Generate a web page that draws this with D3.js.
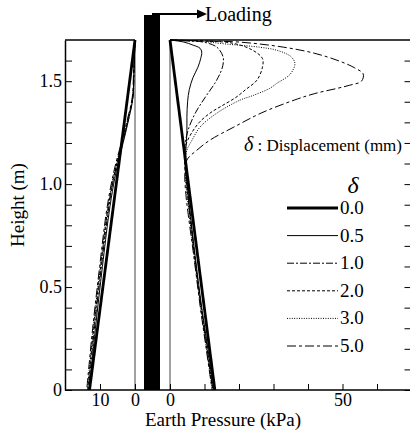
<!DOCTYPE html>
<html>
<head>
<meta charset="utf-8">
<script src="https://cdn.jsdelivr.net/npm/d3@7"></script>
<style>
  body { margin: 0; background: #fff; }
</style>
</head>
<body>
<div id="chart"></div>
<script>
// legend entries (displacement in mm)
const deltas = ["0.0", "0.5", "1.0", "2.0", "3.0", "5.0"];

// tick values
const heightTicks = d3.range(0, 17).map(i => i / 10);
const heightLabels = { 0: "0", 0.5: "0.5", 1: "1.0", 1.5: "1.5" };
const leftPressureTicks = [0, 10];
const rightPressureTicks = [0, 10, 20, 30, 40, 50, 60];
const rightPressureLabels = { 0: "0", 50: "50" };

// right side (loaded side) earth pressure, [kPa, m]
const rightD00 = [[0, 1.7], [13, 0]];
const rightD05 = [[0, 1.7], [4, 1.69], [6.7, 1.675], [8.7, 1.66], [9.2, 1.642], [8.9, 1.61], [8.1, 1.568], [6.7, 1.519], [5.6, 1.46], [5.1, 1.40], [4.9, 1.325], [4.9, 1.248], [4.6, 1.165], [4.7, 1.05], [5.6, 0.9], [7.3, 0.65], [9.2, 0.4], [11, 0.2], [12.6, 0]];
const rightD10 = [[0, 1.7], [5, 1.695], [9.6, 1.69], [13.6, 1.665], [15.4, 1.617], [15.3, 1.575], [14.5, 1.537], [13, 1.49], [10.3, 1.424], [7.5, 1.35], [5.6, 1.28], [4.5, 1.21], [4.3, 1.15], [4.7, 1.05], [5.5, 0.9], [7.2, 0.65], [9.1, 0.4], [10.8, 0.2], [12.4, 0]];
const rightD20 = [[0, 1.7], [10, 1.695], [18.3, 1.684], [24, 1.65], [26.8, 1.61], [26.8, 1.568], [25.2, 1.505], [22, 1.46], [19, 1.42], [15, 1.38], [11.6, 1.345], [8.5, 1.30], [6.5, 1.255], [4.8, 1.2], [4.2, 1.15], [4.5, 1.05], [5.4, 0.9], [7.1, 0.65], [9, 0.4], [10.7, 0.2], [12.4, 0]];
const rightD30 = [[0, 1.7], [8, 1.695], [16.5, 1.68], [26, 1.665], [31, 1.65], [35, 1.62], [36.2, 1.587], [35.5, 1.55], [34.3, 1.525], [31, 1.49], [29, 1.466], [24, 1.43], [20.3, 1.408], [13.6, 1.345], [8.7, 1.277], [6.4, 1.214], [4.9, 1.165], [4.4, 1.1], [4.6, 1.0], [5.4, 0.88], [7, 0.65], [8.9, 0.4], [10.6, 0.2], [12.3, 0]];
const rightD50 = [[0, 1.7], [10, 1.695], [20, 1.69], [33, 1.665], [42, 1.635], [48.7, 1.60], [53.5, 1.565], [56, 1.535], [55.5, 1.50], [52, 1.48], [48.7, 1.466], [42, 1.44], [36, 1.408], [26.4, 1.345], [18.5, 1.277], [11.6, 1.214], [7.8, 1.165], [4.9, 1.117], [4.3, 1.05], [4.6, 0.95], [5.3, 0.85], [6.9, 0.65], [8.8, 0.4], [10.5, 0.2], [12.2, 0]];

// left side (back side) earth pressure, [kPa, m]
const leftD00 = [[0, 1.7], [13, 0]];
const leftD05 = [[0, 1.7], [0.3, 1.55], [0.6, 1.42], [2, 1.3], [3.4, 1.2], [4.9, 1.1], [6.1, 1.0], [7.5, 0.85], [9.3, 0.6], [11.3, 0.3], [13.1, 0]];
const leftD10 = [[0, 1.7], [0.3, 1.55], [0.6, 1.42], [2.1, 1.3], [3.6, 1.2], [5.1, 1.1], [6.4, 1.0], [7.8, 0.85], [9.6, 0.6], [11.6, 0.3], [13.3, 0]];
const leftD20 = [[0, 1.7], [0.3, 1.55], [0.7, 1.42], [2.2, 1.3], [3.7, 1.2], [5.2, 1.1], [6.5, 1.0], [8, 0.85], [9.8, 0.6], [11.8, 0.3], [13.5, 0]];
const leftD30 = [[0, 1.7], [0.3, 1.55], [0.7, 1.42], [2.3, 1.3], [3.8, 1.2], [5.3, 1.1], [6.6, 1.0], [8.1, 0.85], [9.9, 0.6], [11.9, 0.3], [13.6, 0]];
const leftD50 = [[0, 1.7], [0.4, 1.55], [0.8, 1.42], [2.4, 1.3], [3.9, 1.2], [5.5, 1.1], [6.8, 1.0], [8.3, 0.85], [10.1, 0.6], [12.1, 0.3], [13.8, 0]];

const rightCurves = [rightD00, rightD05, rightD10, rightD20, rightD30, rightD50];
const leftCurves = [leftD00, leftD05, leftD10, leftD20, leftD30, leftD50];

// line styles per delta
const strokeWidths = [2.8, 1, 1, 1, 1, 1];
const dashes = [null, null, "7,2,2,2", "3,2", "1,1.4", "9,3,3,3"];

const serif = '"Liberation Serif"';
const width = 410, height = 431;

const svg = d3.select("#chart").append("svg")
    .attr("width", width)
    .attr("height", height);

// scales
const y = d3.scaleLinear().domain([0, 1.7]).range([390, 40]);
const xL = d3.scaleLinear().domain([0, 20]).range([135, 65]);
const xR = d3.scaleLinear().domain([0, 70]).range([170, 411.5]);

// frame lines
const frame = svg.append("g").attr("stroke", "#000").attr("fill", "none");
frame.append("line").attr("x1", xL(20)).attr("x2", xL(0)).attr("y1", y(1.7)).attr("y2", y(1.7)).attr("stroke-width", 1.5);
frame.append("line").attr("x1", xR(0)).attr("x2", xR(70)).attr("y1", y(1.7)).attr("y2", y(1.7)).attr("stroke-width", 1.5);
frame.append("line").attr("x1", xL(0)).attr("x2", xL(0)).attr("y1", y(1.7)).attr("y2", y(0)).attr("stroke", "#444");
frame.append("line").attr("x1", xR(0)).attr("x2", xR(0)).attr("y1", y(1.7)).attr("y2", y(0)).attr("stroke", "#444");
frame.append("line").attr("x1", xL(20)).attr("x2", xR(70)).attr("y1", y(0)).attr("y2", y(0)).attr("stroke-width", 1.5);

// left height axis, ticks inward
const fmtH = d => heightLabels[Math.round(d * 10) / 10] || "";
svg.append("g")
    .attr("transform", `translate(${xL(20)},0)`)
    .call(d3.axisLeft(y).tickValues(heightTicks).tickSizeInner(-7).tickSizeOuter(0).tickPadding(3).tickFormat(fmtH))
    .call(g => g.selectAll("text").style("font-size", "18px"))
    .call(g => g.select(".domain").attr("stroke-width", 1.5));

// right edge ticks
svg.append("g")
    .attr("transform", `translate(${xR(70)},0)`)
    .call(d3.axisRight(y).tickValues(heightTicks).tickSizeInner(-7).tickSizeOuter(0).tickFormat(""));

// bottom axes
svg.append("g")
    .attr("transform", `translate(0,${y(0)})`)
    .call(d3.axisBottom(xL).tickValues(leftPressureTicks).tickSizeInner(-6).tickSizeOuter(0).tickPadding(3).tickFormat(d => String(d)))
    .call(g => g.select(".domain").remove())
    .call(g => g.selectAll("text").style("font-size", "18px"));

svg.append("g")
    .attr("transform", `translate(0,${y(0)})`)
    .call(d3.axisBottom(xR).tickValues(rightPressureTicks).tickSizeInner(-6).tickSizeOuter(0).tickPadding(3).tickFormat(d => rightPressureLabels[d] || ""))
    .call(g => g.select(".domain").remove())
    .call(g => g.selectAll("text").style("font-size", "18px"));

// curves
const lineR = d3.line().x(d => xR(d[0])).y(d => y(d[1])).curve(d3.curveCatmullRom.alpha(0.5));
const lineL = d3.line().x(d => xL(d[0])).y(d => y(d[1])).curve(d3.curveCatmullRom.alpha(0.5));

const drawOrder = [5, 4, 3, 2, 1, 0];
drawOrder.forEach(i => {
    svg.append("path")
        .attr("d", lineR(rightCurves[i]))
        .attr("fill", "none")
        .attr("stroke", "#000")
        .attr("stroke-width", strokeWidths[i])
        .attr("stroke-dasharray", dashes[i]);
    svg.append("path")
        .attr("d", lineL(leftCurves[i]))
        .attr("fill", "none")
        .attr("stroke", "#000")
        .attr("stroke-width", strokeWidths[i])
        .attr("stroke-dasharray", dashes[i]);
});

// the wall and the loading arrow
svg.append("rect")
    .attr("x", 144).attr("y", 15)
    .attr("width", 16).attr("height", y(0) - 15)
    .attr("fill", "#000");
svg.append("line")
    .attr("x1", 152).attr("x2", 199).attr("y1", 14).attr("y2", 14)
    .attr("stroke", "#000").attr("stroke-width", 2);
svg.append("path")
    .attr("d", "M197,9.5 L207,14 L197,18.5 Z")
    .attr("fill", "#000");
svg.append("text")
    .attr("x", 205).attr("y", 21)
    .style("font-size", "20px")
    .text("Loading");

// axis titles
svg.append("text")
    .attr("transform", "translate(24,205) rotate(-90)")
    .attr("text-anchor", "middle")
    .style("font-size", "19px")
    .text("Height (m)");
svg.append("text")
    .attr("x", 223).attr("y", 426)
    .attr("text-anchor", "middle")
    .style("font-size", "19px")
    .text("Earth Pressure (kPa)");

// annotation
const note = svg.append("text")
    .attr("x", 402).attr("y", 151)
    .attr("text-anchor", "end")
    .style("font-size", "17px");
note.append("tspan").style("font-style", "italic").style("font-size", "20px").text("δ");
note.append("tspan").text(" : Displacement (mm)");

// legend
const legend = svg.append("g");
legend.append("text")
    .attr("x", 353).attr("y", 193)
    .attr("text-anchor", "middle")
    .style("font-size", "24px")
    .style("font-style", "italic")
    .text("δ");

const rowY = d3.scalePoint().domain(deltas).range([208, 346]);
deltas.forEach((d, i) => {
    legend.append("line")
        .attr("x1", 287).attr("x2", 338)
        .attr("y1", rowY(d)).attr("y2", rowY(d))
        .attr("stroke", "#000")
        .attr("stroke-width", strokeWidths[i])
        .attr("stroke-dasharray", dashes[i]);
    legend.append("text")
        .attr("x", 340).attr("y", rowY(d) + 6)
        .style("font-size", "19px")
        .text(d);
});

// serif type everywhere, axis groups included
svg.selectAll("g").attr("font-family", null);
svg.selectAll("text").style("font-family", serif).attr("fill", "#000");
</script>
</body>
</html>
